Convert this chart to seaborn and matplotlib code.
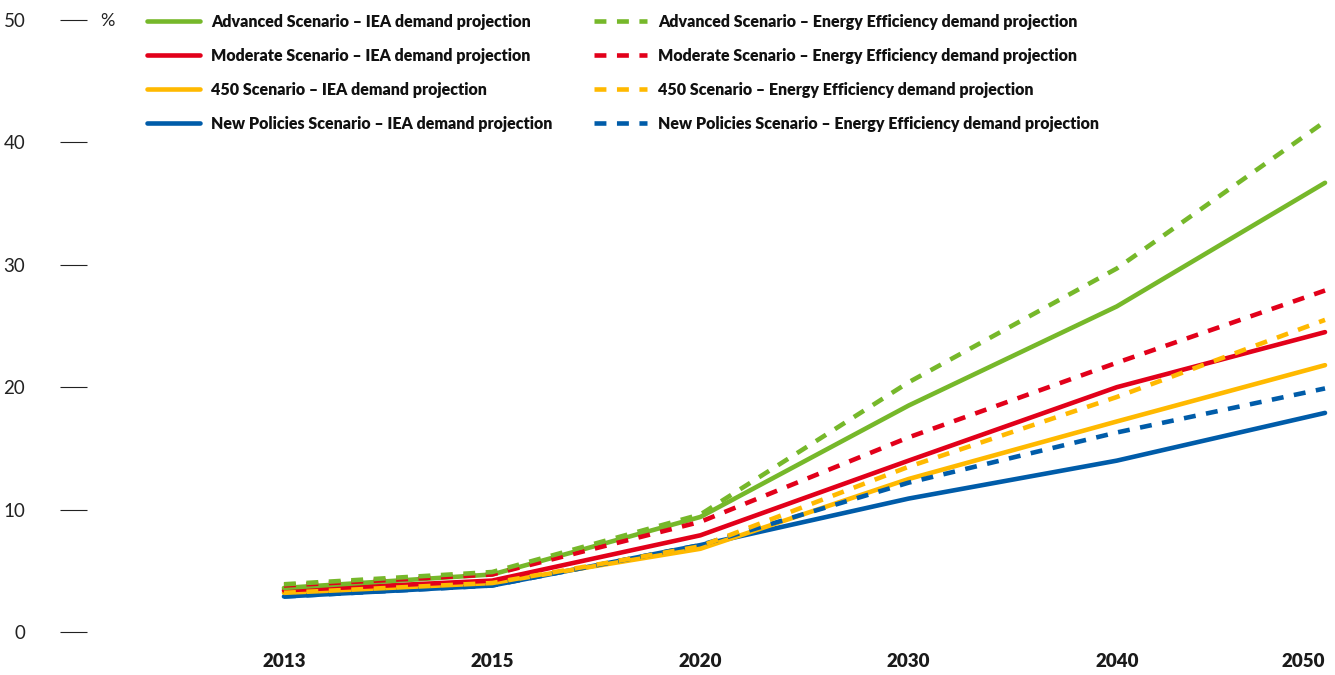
import numpy as np
import pandas as pd
import matplotlib
matplotlib.use('Agg')
import matplotlib.pyplot as plt
import seaborn as sns

# Data (share, %)
years = ['2013', '2015', '2020', '2030', '2040', '2050']
advanced_iea = [3.6, 4.7, 9.4, 18.5, 26.6, 36.7]
advanced_ee = [3.9, 4.9, 9.6, 20.4, 29.7, 41.7]
moderate_iea = [3.4, 4.2, 7.9, 14.0, 20.0, 24.5]
moderate_ee = [3.8, 4.7, 9.0, 15.9, 22.0, 27.9]
s450_iea = [3.2, 4.0, 6.8, 12.5, 17.2, 21.8]
s450_ee = [3.2, 4.0, 7.0, 13.5, 19.2, 25.5]
newpol_iea = [2.9, 3.8, 7.1, 10.9, 14.0, 17.9]
newpol_ee = [2.9, 3.8, 7.1, 12.2, 16.3, 19.9]
yticks = [0, 10, 20, 30, 40, 50]

scenarios = ['Advanced Scenario', 'Moderate Scenario', '450 Scenario', 'New Policies Scenario']
colors = {'Advanced Scenario': '#76b82a', 'Moderate Scenario': '#e2001a',
          '450 Scenario': '#ffb900', 'New Policies Scenario': '#005ca9'}
iea_vals = {'Advanced Scenario': advanced_iea, 'Moderate Scenario': moderate_iea,
            '450 Scenario': s450_iea, 'New Policies Scenario': newpol_iea}
ee_vals = {'Advanced Scenario': advanced_ee, 'Moderate Scenario': moderate_ee,
           '450 Scenario': s450_ee, 'New Policies Scenario': newpol_ee}

sns.set_style('white')
plt.rcParams['font.family'] = ['Lato', 'DejaVu Sans']

fig = plt.figure(figsize=(13.35, 6.75), dpi=100)
ax = fig.add_axes([87 / 1335, 43 / 675, 1248 / 1335, 612 / 675])

pos = np.arange(len(years))
lw = 3.3
dash = (2.6, 2.3)

# solid lines first (blue at bottom), dashed on top
z = 2
for s in scenarios[::-1]:
    df = pd.DataFrame({'x': pos, 'y': iea_vals[s]})
    sns.lineplot(data=df, x='x', y='y', ax=ax, color=colors[s], linewidth=lw,
                 label=s + ' \u2013 IEA demand projection', zorder=z, clip_on=False)
    z += 1
for s in scenarios[::-1]:
    df = pd.DataFrame({'x': pos, 'y': ee_vals[s]})
    sns.lineplot(data=df, x='x', y='y', ax=ax, color=colors[s], linewidth=lw,
                 label=s + ' \u2013 Energy Efficiency demand projection', zorder=z, clip_on=False)
    z += 1
for ln in ax.get_lines()[4:]:
    ln.set_dashes(dash)

ax.set_xlim(-0.946, 5.048)
ax.set_ylim(0, 50)
ax.set_xticks(pos)
ax.set_xticklabels(years, fontweight='heavy', fontsize=13.5)
ax.get_xticklabels()[-1].set_horizontalalignment('right')
ax.set_yticks(yticks)
ax.set_yticklabels([str(t) for t in yticks], fontsize=13.5)
ax.tick_params(axis='x', length=0, pad=15, colors='#1a1a1a')
ax.tick_params(axis='y', length=19.4, width=0.8, pad=25, direction='out',
               color='#222222', labelcolor='#222222', left=True)
ax.set_xlabel('')
ax.set_ylabel('')
sns.despine(ax=ax, left=True, bottom=True)
ax.grid(False)

fig.text(100 / 1335, 1 - 21 / 675, '%', fontsize=13, color='#222222', va='center', ha='left')

handles, labels = ax.get_legend_handles_labels()
hmap = dict(zip(labels, handles))
col1 = [s + ' \u2013 IEA demand projection' for s in scenarios]
col2 = [s + ' \u2013 Energy Efficiency demand projection' for s in scenarios]
legend_kw = dict(frameon=False, loc='upper left', bbox_transform=fig.transFigure,
                 borderpad=0, borderaxespad=0, handlelength=3.3, handletextpad=0.7,
                 labelspacing=1.12, prop={'weight': 'heavy', 'size': 11.5})
leg1 = ax.legend([hmap[l] for l in col1], col1, bbox_to_anchor=(147 / 1335, 1 - 14 / 675), **legend_kw)
ax.add_artist(leg1)
leg2 = ax.legend([hmap[l] for l in col2], col2, bbox_to_anchor=(594 / 1335, 1 - 14 / 675), **legend_kw)
for leg in (leg1, leg2):
    for t in leg.get_texts():
        t.set_color('#111111')

fig.savefig('out.png', dpi=100)
